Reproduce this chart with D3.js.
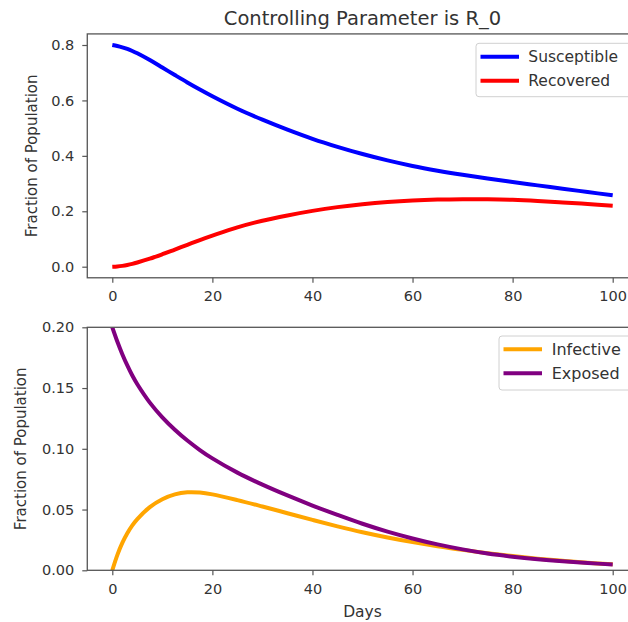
<!DOCTYPE html>
<html>
<head>
<meta charset="utf-8">
<script src="https://cdn.jsdelivr.net/npm/d3@7"></script>
<style>
  html, body { margin: 0; padding: 0; background: #fff; }
  svg { display: block; }
  text { font-family: "DejaVu Sans", sans-serif; fill: #333; }
</style>
</head>
<body>
<svg id="chart" width="628" height="622"></svg>
<script>
// ---- data ----
const titleText = "Controlling Parameter is R_0";
const days = [0,1,2,3,4,5,7.5,10,12.5,15,17.5,20,25,30,35,40,45,50,55,60,65,70,75,80,85,90,95,100];
const susceptible = [0.800,0.7964,0.7916,0.7856,0.7784,0.770,0.7455,0.7187,0.6915,0.6648,0.6393,0.615,0.570,0.5305,0.4945,0.4615,0.4325,0.4065,0.3835,0.3635,0.3465,0.3315,0.318,0.3055,0.2935,0.2815,0.2695,0.2575];
const recovered   = [0.000,0.001,0.003,0.006,0.010,0.015,0.029,0.045,0.062,0.079,0.096,0.112,0.142,0.166,0.185,0.2015,0.215,0.2255,0.2335,0.239,0.2422,0.2435,0.2432,0.2415,0.2375,0.232,0.2262,0.220];
const infective   = [0.000,0.0125,0.0225,0.0305,0.0370,0.0422,0.0520,0.0585,0.0625,0.0642,0.0640,0.0625,0.0578,0.0525,0.047,0.0415,0.0362,0.0313,0.0270,0.0232,0.0198,0.0168,0.0141,0.0117,0.0096,0.0078,0.0062,0.0049];
const exposed     = [0.200,0.1883,0.1779,0.1686,0.1603,0.1531,0.138,0.1259,0.1157,0.1068,0.099,0.0921,0.0804,0.0705,0.0616,0.0533,0.0456,0.0383,0.0318,0.0262,0.0213,0.0172,0.0138,0.0112,0.0091,0.0074,0.006,0.0048];
const xTicks = [0,20,40,60,80,100];
const topYTicks = [0.0,0.2,0.4,0.6,0.8];
const botYTicks = [0.00,0.05,0.10,0.15,0.20];
const topSeries = [{name:"Susceptible", values:susceptible, color:"#0000ff"},
                   {name:"Recovered", values:recovered, color:"#ff0000"}];
const botSeries = [{name:"Infective", values:infective, color:"#ffa500"},
                   {name:"Exposed", values:exposed, color:"#800080"}];
const yLabel = "Fraction of Population";
const xLabel = "Days";

// ---- layout ----
const svg = d3.select("#chart");
const spineColor = "#555";
const x = d3.scaleLinear().domain([0,100]).range([112.3,612.7]);
const xMin = -5, xMax = 105;

function panel(cfg) {
  const y = d3.scaleLinear().domain(cfg.ydom).range(cfg.yrange);
  const g = svg.append("g");
  const left = x(xMin), right = x(xMax), top = y(cfg.yLim[1]), bottom = y(cfg.yLim[0]);
  const clipId = "clip" + cfg.id;
  svg.append("clipPath").attr("id", clipId).append("rect")
    .attr("x", left).attr("y", top).attr("width", right-left).attr("height", bottom-top);

  const line = d3.line().x((d,i)=>x(days[i])).y(d=>y(d)).curve(d3.curveCatmullRom.alpha(0.5));
  g.append("g").attr("clip-path", `url(#${clipId})`)
    .selectAll("path").data(cfg.series).join("path")
    .attr("d", d=>line(d.values))
    .attr("fill","none").attr("stroke", d=>d.color)
    .attr("stroke-width", 4).attr("stroke-linejoin","round").attr("stroke-linecap","butt");

  // spines
  g.append("rect").attr("x", left).attr("y", top).attr("width", right-left).attr("height", bottom-top)
    .attr("fill","none").attr("stroke", spineColor).attr("stroke-width", 1.3);

  // x axis
  const xa = g.append("g").attr("transform", `translate(0,${bottom})`)
    .call(d3.axisBottom(x).tickValues(xTicks).tickSize(5).tickPadding(6).tickFormat(d3.format("d")));
  xa.select(".domain").remove();
  xa.selectAll("line").attr("stroke", spineColor).attr("stroke-width",1.2);
  xa.selectAll("text").attr("font-size", "14.5px").attr("fill","#333")
    .attr("font-family", "DejaVu Sans").attr("dy", null).attr("y", 23.5);

  // y axis
  const ya = g.append("g").attr("transform", `translate(${left},0)`)
    .call(d3.axisLeft(y).tickValues(cfg.yticks).tickSize(5).tickPadding(8).tickFormat(d3.format(cfg.fmt)));
  ya.select(".domain").remove();
  ya.selectAll("line").attr("stroke", spineColor).attr("stroke-width",1.2);
  ya.selectAll("text").attr("font-size", "14.5px").attr("fill","#333").attr("font-family","DejaVu Sans");

  // y label
  g.append("text").attr("transform", `translate(${cfg.ylabX},${(top+bottom)/2}) rotate(-90)`)
    .attr("text-anchor","middle").attr("font-size","15px").text(yLabel);

  // legend
  const L = cfg.legend;
  const lg = g.append("g");
  lg.append("rect").attr("x", L.x).attr("y", L.y).attr("width", L.w).attr("height", L.h)
    .attr("rx", 3).attr("fill","#fff").attr("fill-opacity",0.8).attr("stroke","#d0d0d0").attr("stroke-width",1);
  cfg.series.forEach((s,i) => {
    const ly = L.y + L.first + i*L.step;
    lg.append("line").attr("x1", L.x+4.5).attr("x2", L.x+43).attr("y1", ly).attr("y2", ly)
      .attr("stroke", s.color).attr("stroke-width", 4);
    lg.append("text").attr("x", L.x+L.tx).attr("y", ly).attr("dy","0.36em")
      .attr("font-size", L.fs).text(s.name);
  });
  return {y, top, bottom};
}

panel({id:1, ydom:[0,0.8], yrange:[266.7,45], yLim:[-0.04,0.84], yticks:topYTicks, fmt:".1f",
       series:topSeries, ylabX:37,
       legend:{x:476, y:43.3, w:160, h:53.4, first:13.4, step:24, tx:52.3, fs:"15.5px"}});
panel({id:2, ydom:[0,0.2], yrange:[570.3,327.3], yLim:[0,0.2], yticks:botYTicks, fmt:".2f",
       series:botSeries, ylabX:26,
       legend:{x:499, y:336, w:140, h:54, first:13.3, step:24, tx:52.7, fs:"16px"}});

// title
svg.append("text").attr("x", x(50)).attr("y", 25).attr("text-anchor","middle")
  .attr("font-size","19.5px").text(titleText);
// x label
svg.append("text").attr("x", x(50)).attr("y", 617).attr("text-anchor","middle")
  .attr("font-size","15.5px").text(xLabel);
</script>
</body>
</html>
